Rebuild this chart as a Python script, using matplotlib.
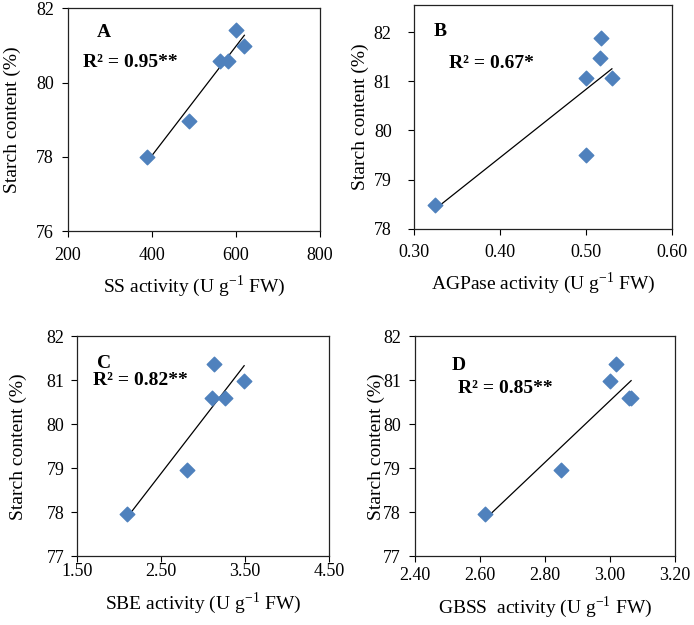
import numpy as np
import matplotlib.pyplot as plt

plt.rcParams['font.family'] = ['Liberation Serif', 'DejaVu Serif']
plt.rcParams['mathtext.fontset'] = 'custom'
plt.rcParams['mathtext.rm'] = 'Liberation Serif'

# starch content (%) per sample
ss_x = [388, 487, 562, 580, 600, 620]
ss_y = [78.0, 78.96, 80.59, 80.59, 81.4, 80.98]

agp_x = [0.325, 0.500, 0.500, 0.516, 0.517, 0.530]
agp_y = [78.49, 79.49, 81.06, 81.48, 81.88, 81.06]

sbe_x = [2.10, 2.81, 3.11, 3.26, 3.13, 3.49]
sbe_y = [77.96, 78.96, 80.59, 80.59, 81.37, 80.99]

gbss_x = [2.615, 2.85, 3.00, 3.02, 3.057, 3.065]
gbss_y = [77.96, 78.96, 80.99, 81.37, 80.59, 80.59]

panels = [
    dict(x=ss_x, y=ss_y, letter='A', r2='R² = 0.95**', xlabel='SS activity',
         xlim=(200, 800), xticks=[200, 400, 600, 800], xfmt='{:.0f}',
         ylim=(76, 82), yticks=[76, 78, 80, 82],
         rect=[0.098, 0.630, 0.363, 0.357], lpos=(0.115, 0.89), rpos=(0.06, 0.758),
         xpad=7, ypad=6, ylab=-0.222),
    dict(x=agp_x, y=agp_y, letter='B', r2='R² = 0.67*', xlabel='AGPase activity',
         xlim=(0.3, 0.6), xticks=[0.3, 0.4, 0.5, 0.6], xfmt='{:.2f}',
         ylim=(78, 82.55), yticks=[78, 79, 80, 81, 82],
         rect=[0.5965, 0.634, 0.372, 0.358], lpos=(0.078, 0.88), rpos=(0.136, 0.74),
         xpad=7, ypad=12, ylab=-0.209),
    dict(x=sbe_x, y=sbe_y, letter='C', r2='R² = 0.82**', xlabel='SBE activity',
         xlim=(1.5, 4.5), xticks=[1.5, 2.5, 3.5, 4.5], xfmt='{:.2f}',
         ylim=(77, 82), yticks=[77, 78, 79, 80, 81, 82],
         rect=[0.111, 0.110, 0.363, 0.352], lpos=(0.08, 0.877), rpos=(0.063, 0.80),
         xpad=1, ypad=5, ylab=-0.234),
    dict(x=gbss_x, y=gbss_y, letter='D', r2='R² = 0.85**', xlabel='GBSS  activity',
         xlim=(2.4, 3.2), xticks=[2.4, 2.6, 2.8, 3.0, 3.2], xfmt='{:.2f}',
         ylim=(77, 82), yticks=[77, 78, 79, 80, 81, 82],
         rect=[0.598, 0.110, 0.3746, 0.352], lpos=(0.142, 0.868), rpos=(0.165, 0.764),
         xpad=4, ypad=6, ylab=-0.15),
]

fig = plt.figure(figsize=(6.94, 6.25), dpi=100)

for p in panels:
    ax = fig.add_axes(p['rect'])
    x = np.array(p['x'])
    y = np.array(p['y'])
    ax.scatter(x, y, marker='D', s=55, color='#4F81BD', zorder=3)
    # linear trend line
    k, b = np.polyfit(x, y, 1)
    xs = np.array([x.min(), x.max()])
    ax.plot(xs, k * xs + b, color='black', lw=0.9, zorder=2)

    ax.set_xlim(*p['xlim'])
    ax.set_ylim(*p['ylim'])
    ax.set_xticks(p['xticks'])
    ax.set_xticklabels([p['xfmt'].format(v) for v in p['xticks']])
    ax.set_yticks(p['yticks'])
    ax.tick_params(labelsize=13, direction='out', length=4, width=0.8)
    ax.tick_params(axis='x', pad=p['xpad'])
    ax.tick_params(axis='y', pad=p['ypad'])
    for s in ax.spines.values():
        s.set_linewidth(0.9)
        s.set_color('#222222')
    ax.set_xlabel(p['xlabel'] + r' (U g$^{\mathregular{-1}}$ FW)', fontsize=14, labelpad=7)
    ax.set_ylabel('Starch content (%)', fontsize=14, va='center')
    ax.yaxis.set_label_coords(p['ylab'], 0.5)
    ax.text(*p['lpos'], p['letter'], transform=ax.transAxes, fontsize=14,
            fontweight='bold', ha='left', va='center')
    ax.text(*p['rpos'], p['r2'], transform=ax.transAxes, fontsize=14,
            fontweight='bold', ha='left', va='center')

fig.savefig('out.png', dpi=100)
